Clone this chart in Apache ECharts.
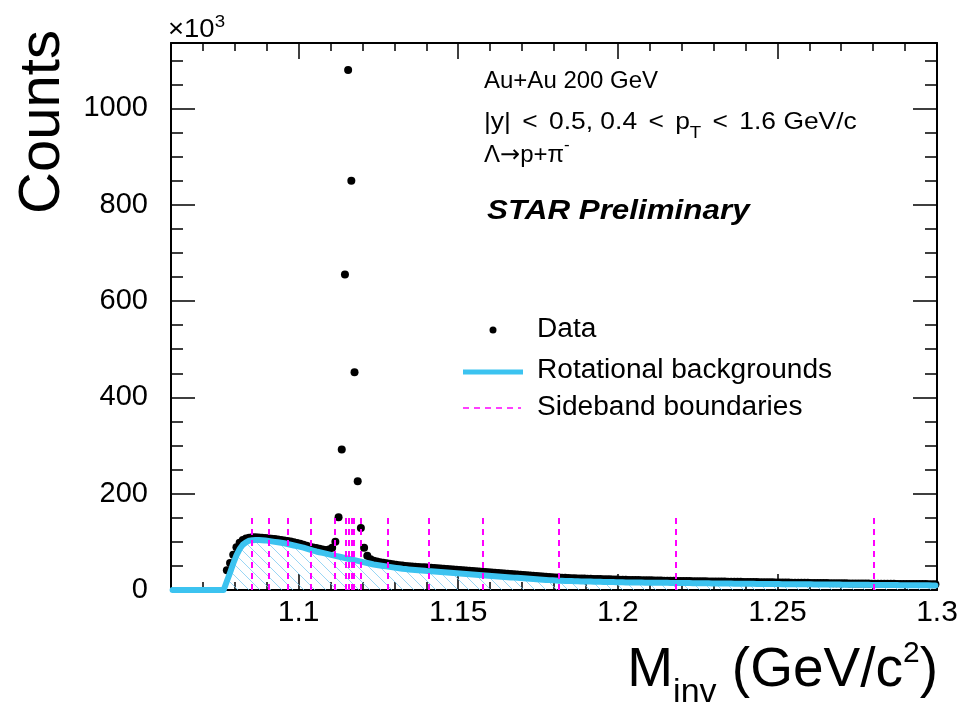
<!DOCTYPE html>
<html>
<head>
<meta charset="utf-8">
<title>Lambda invariant mass</title>
<script src="https://cdn.jsdelivr.net/npm/echarts@6/dist/echarts.min.js"></script>
<style>
  html, body { margin: 0; padding: 0; background: #ffffff; }
  #chart { width: 961px; height: 707px; }
</style>
</head>
<body>
<div id="chart"></div>
<script>
// Histogram binning (GeV/c^2)
const massMin = 1.06;
const massMax = 1.30;
const binWidth = 0.001;

// Counts per bin, in units of 10^3 (null = empty bin below threshold)
const dataCounts = [
  null, null, null, null, null, null, null, null, null, null,
  null, null, null, null, null, null, null, 41, 56, 73,
  89, 98, 104, 107, 108.5, 109.5, 109.5, 109, 108.5, 108,
  107.5, 106.5, 106, 105, 104, 103, 102, 100.5, 99, 97.5,
  96, 94, 92, 90, 88.5, 87, 85.5, 84, 83, 84,
  88, 100, 151, 292, 655, 1080, 850, 452, 226, 129,
  88, 71, 64, 61, 59, 57.5, 56.5, 55.5, 54.5, 53.5,
  52.5, 51.5, 51, 50, 49.5, 49, 48.5, 48, 47.5, 47,
  46.5, 46, 45.5, 45, 44.5, 44, 43.5, 43, 42.5, 42,
  41.5, 41, 40.5, 40, 39.5, 39, 38.5, 38, 37.5, 37,
  36.4, 35.8, 35.3, 34.7, 34.2, 33.6, 33.1, 32.6, 32.1, 31.6,
  31.1, 30.6, 30.1, 29.6, 29.1, 28.6, 28.1, 27.6, 27.1, 26.6,
  26.2, 25.8, 25.5, 25.2, 24.9, 24.6, 24.3, 24.1, 23.9, 23.7,
  23.5, 23.3, 23.1, 22.9, 22.7, 22.5, 22.3, 22.1, 21.9, 21.7,
  21.5, 21.3, 21.2, 21.0, 20.9, 20.7, 20.6, 20.4, 20.3, 20.1,
  20.0, 19.8, 19.7, 19.5, 19.4, 19.3, 19.1, 19.0, 18.9, 18.8,
  18.7, 18.6, 18.5, 18.4, 18.3, 18.2, 18.1, 18.0, 17.9, 17.8,
  17.7, 17.6, 17.5, 17.4, 17.3, 17.2, 17.1, 17.0, 16.9, 16.8,
  16.7, 16.6, 16.5, 16.4, 16.3, 16.2, 16.1, 16.0, 15.9, 15.8,
  15.7, 15.6, 15.5, 15.4, 15.3, 15.2, 15.1, 15.0, 14.9, 14.8,
  14.7, 14.6, 14.5, 14.4, 14.4, 14.3, 14.2, 14.1, 14.0, 13.9,
  13.9, 13.8, 13.7, 13.6, 13.6, 13.5, 13.4, 13.3, 13.3, 13.2,
  13.1, 13.1, 13.0, 12.9, 12.9, 12.8, 12.8, 12.7, 12.7, 12.6,
  12.6, 12.5, 12.5, 12.4, 12.4, 12.3, 12.3, 12.2, 12.2, 12.1
];

// Rotational background per bin, in units of 10^3
const rotBkgCounts = [
  0, 0, 0, 0, 0, 0, 0, 0, 0, 0,
  0, 0, 0, 0, 0, 0, 0, 18, 36, 55,
  72, 85, 94, 99, 102.5, 103.5, 104, 104, 103.5, 103,
  102, 101, 100, 99, 98, 97, 95.5, 94, 92.5, 91,
  89.5, 88, 86, 84, 82, 80, 78.5, 77, 75.5, 74,
  72.5, 71, 69.5, 68, 66.5, 65, 63.5, 62, 60.5, 59,
  57.5, 56, 54.5, 53, 52, 51, 50, 49, 48, 47,
  46, 45, 44, 43.4, 42.8, 42.2, 41.6, 41, 40.4, 39.8,
  39.2, 38.7, 38.2, 37.7, 37.2, 36.7, 36.2, 35.7, 35.2, 34.7,
  34.2, 33.7, 33.2, 32.7, 32.2, 31.7, 31.2, 30.7, 30.2, 29.7,
  29.2, 28.7, 28.2, 27.7, 27.2, 26.7, 26.2, 25.7, 25.2, 24.7,
  24.2, 23.7, 23.2, 22.7, 22.2, 21.8, 21.3, 20.9, 20.5, 20.1,
  19.7, 19.3, 19.1, 18.9, 18.7, 18.5, 18.3, 18.1, 17.9, 17.7,
  17.6, 17.4, 17.3, 17.1, 17.0, 16.8, 16.7, 16.5, 16.4, 16.2,
  16.0, 15.9, 15.8, 15.7, 15.6, 15.5, 15.5, 15.4, 15.3, 15.2,
  15.1, 15.0, 15.0, 14.9, 14.8, 14.8, 14.7, 14.6, 14.6, 14.5,
  14.4, 14.3, 14.3, 14.2, 14.1, 14.0, 14.0, 13.9, 13.8, 13.7,
  13.7, 13.6, 13.5, 13.4, 13.4, 13.3, 13.2, 13.1, 13.1, 13.0,
  12.9, 12.9, 12.8, 12.7, 12.7, 12.6, 12.5, 12.5, 12.4, 12.3,
  12.3, 12.2, 12.1, 12.1, 12.0, 12.0, 11.9, 11.8, 11.8, 11.7,
  11.7, 11.6, 11.6, 11.5, 11.5, 11.4, 11.3, 11.3, 11.2, 11.2,
  11.1, 11.1, 11.0, 10.9, 10.9, 10.8, 10.8, 10.7, 10.7, 10.6,
  10.6, 10.5, 10.4, 10.4, 10.3, 10.3, 10.2, 10.2, 10.1, 10.1,
  10.0, 10.0, 9.9, 9.9, 9.8, 9.8, 9.7, 9.7, 9.6, 9.6
];

// Sideband boundary positions (GeV/c^2) and the height they are drawn to (10^3)
const sidebandEdges = [1.0853, 1.0907, 1.0967, 1.1037, 1.1113, 1.1149, 1.1157, 1.1166,
                       1.1173, 1.1194, 1.1279, 1.1409, 1.1576, 1.1816, 1.2183, 1.2801];
const sidebandTop = 150;

// Axis ticks
const yMax = 1136;
const xMajorTicks = [1.1, 1.15, 1.2, 1.25, 1.3];
const xMinorTicks = [1.07, 1.08, 1.09, 1.1, 1.11, 1.12, 1.13, 1.14, 1.15, 1.16, 1.17, 1.18,
                     1.19, 1.2, 1.21, 1.22, 1.23, 1.24, 1.25, 1.26, 1.27, 1.28, 1.29, 1.3];
const yMajorTicks = [0, 200, 400, 600, 800, 1000];
const yMinorTicks = [0, 50, 100, 150, 200, 250, 300, 350, 400, 450, 500, 550,
                     600, 650, 700, 750, 800, 850, 900, 950, 1000, 1050, 1100];

const FONT = '"Liberation Sans", Arial, Helvetica, sans-serif';
const SYMBOL_FONT = '"DejaVu Sans", "Liberation Sans", sans-serif';
const BKG_BLUE = '#3cc3f0';
const MAGENTA = '#ff00ff';

function binCenter(i) { return massMin + binWidth * (i + 0.5); }

const dataPoints = [];
dataCounts.forEach((v, i) => { if (v !== null) dataPoints.push([binCenter(i), v]); });
const bkgPoints = rotBkgCounts.map((v, i) => [binCenter(i), v]);

// Diagonal hatch used under the background curve
function hatchPattern() {
  const s = 11;
  const c = document.createElement('canvas');
  c.width = s; c.height = s;
  const g = c.getContext('2d');
  g.strokeStyle = 'rgba(120, 200, 240, 0.75)';
  g.lineWidth = 1;
  g.beginPath();
  g.moveTo(-1, -1); g.lineTo(s + 1, s + 1);
  g.moveTo(-1, s - 1); g.lineTo(1, s + 1);
  g.moveTo(s - 1, -1); g.lineTo(s + 1, 1);
  g.stroke();
  return c;
}

// Text helpers: pieces laid out left to right, each on its own baseline,
// with optional side padding and horizontal stretch (sx)
const measureCtx = document.createElement('canvas').getContext('2d');
function fontStr(p) {
  return (p.italic ? 'italic ' : '') + (p.bold ? 'bold ' : '') + p.size + 'px ' + (p.family || FONT);
}
function textRun(x, parts, anchor, sx) {
  const k = sx || 1;
  const widths = parts.map(p => {
    measureCtx.font = fontStr(p);
    return measureCtx.measureText(p.t).width * k + (p.padL || 0) + (p.padR || 0);
  });
  const total = widths.reduce((a, b) => a + b, 0);
  let cx = anchor === 'right' ? x - total : x;
  const els = [];
  parts.forEach((p, i) => {
    els.push({
      type: 'text', x: cx + (p.padL || 0), y: p.base - 0.3465 * p.size, scaleX: k, silent: true,
      style: { text: p.t, font: fontStr(p), fill: '#000',
               align: 'left', textAlign: 'left', verticalAlign: 'middle', textVerticalAlign: 'middle' }
    });
    cx += widths[i];
  });
  return els;
}

const TXT = 24;
const LT = { t: '<', size: TXT, base: 131, padL: 4, padR: 4 };
const graphics = [].concat(
  // multiplier of the y axis
  textRun(168, [{ t: '\u00d710', size: 25, base: 39 }, { t: '3', size: 17, base: 28 }], 'left', 1.1),
  // physics annotations
  textRun(484, [{ t: 'Au+Au 200 GeV', size: TXT, base: 90 }]),
  textRun(484, [{ t: '|y| ', size: TXT, base: 131 }, LT,
                { t: ' 0.5, 0.4 ', size: TXT, base: 131 }, LT,
                { t: ' p', size: TXT, base: 131 },
                { t: 'T', size: 17, base: 139 },
                { t: ' ', size: TXT, base: 131 }, LT,
                { t: ' 1.6 GeV/c', size: TXT, base: 131 }], 'left', 1.1),
  textRun(484, [{ t: '\u039b', size: TXT, base: 164 },
                { t: '\u2192', size: TXT, base: 164, family: SYMBOL_FONT },
                { t: 'p+\u03c0', size: TXT, base: 164 },
                { t: '-', size: 17, base: 151 }]),
  textRun(487, [{ t: 'STAR Preliminary', size: 28, base: 221, bold: true, italic: true }], 'left', 1.12),
  // x axis title
  textRun(938, [{ t: 'M', size: 55, base: 690 },
                { t: 'inv', size: 34, base: 704 },
                { t: ' (GeV/c', size: 55, base: 690 },
                { t: '2', size: 30, base: 664 },
                { t: ')', size: 55, base: 690 }], 'right'),
  // legend
  textRun(537, [{ t: 'Data', size: 27, base: 339 }], 'left', 1.04),
  textRun(537, [{ t: 'Rotational backgrounds', size: 27, base: 380 }], 'left', 1.04),
  textRun(537, [{ t: 'Sideband boundaries', size: 27, base: 417 }], 'left', 1.04),
  [
    { type: 'circle', shape: { cx: 493, cy: 330, r: 3.5 }, style: { fill: '#000' }, silent: true },
    { type: 'line', shape: { x1: 463, y1: 372, x2: 523, y2: 372 },
      style: { stroke: BKG_BLUE, lineWidth: 5 }, silent: true },
    { type: 'line', shape: { x1: 463, y1: 408, x2: 521, y2: 408 },
      style: { stroke: MAGENTA, lineWidth: 1.5, lineDash: [6, 5] }, silent: true },
    // y axis title
    { type: 'text', x: 43, y: 122, rotation: Math.PI / 2, silent: true,
      style: { text: 'Counts', font: '58px ' + FONT, fill: '#000',
               align: 'center', textAlign: 'center', verticalAlign: 'middle', textVerticalAlign: 'middle' } }
  ]
);

const gridRect = { left: 171, right: 24, top: 43, bottom: 117, containLabel: false, outerBoundsMode: 'none' };
const axisLineStyle = { color: '#000', width: 2 };
const tickStyle = { color: '#000', width: 1.5 };

function xAxisDef(gridIndex, position, ticks, len, withLabels, withLine) {
  return {
    type: 'value', gridIndex, position, min: massMin, max: massMax,
    axisLine: { show: withLine, onZero: false, lineStyle: axisLineStyle },
    axisTick: { show: true, inside: true, length: len, customValues: ticks, lineStyle: tickStyle },
    axisLabel: withLabels
      ? { show: true, customValues: ticks, color: '#000', fontSize: 30, fontFamily: FONT, margin: 8,
          formatter: v => String(+v.toFixed(2)) }
      : { show: false },
    splitLine: { show: false }, minorTick: { show: false }
  };
}
function yAxisDef(gridIndex, position, ticks, len, withLabels, withLine) {
  return {
    type: 'value', gridIndex, position, min: 0, max: yMax,
    axisLine: { show: withLine, onZero: false, lineStyle: axisLineStyle },
    axisTick: { show: true, inside: true, length: len, customValues: ticks, lineStyle: tickStyle },
    axisLabel: withLabels
      ? { show: true, customValues: ticks, color: '#000', fontSize: 29, fontFamily: FONT, margin: 23,
          formatter: v => String(Math.round(v)) }
      : { show: false },
    splitLine: { show: false }, minorTick: { show: false }
  };
}

const chart = echarts.init(document.getElementById('chart'), null, { renderer: 'canvas' });
chart.setOption({
  animation: false,
  backgroundColor: '#ffffff',
  grid: [Object.assign({}, gridRect), Object.assign({}, gridRect)],
  xAxis: [
    xAxisDef(0, 'bottom', xMajorTicks, 16, true, true),
    xAxisDef(0, 'top', xMajorTicks, 16, false, true),
    xAxisDef(1, 'bottom', xMinorTicks, 8, false, false),
    xAxisDef(1, 'top', xMinorTicks, 8, false, false)
  ],
  yAxis: [
    yAxisDef(0, 'left', yMajorTicks, 24, true, true),
    yAxisDef(0, 'right', yMajorTicks, 24, false, true),
    yAxisDef(1, 'left', yMinorTicks, 12, false, false),
    yAxisDef(1, 'right', yMinorTicks, 12, false, false)
  ],
  series: [
    {
      name: 'Data', type: 'scatter', xAxisIndex: 0, yAxisIndex: 0,
      data: dataPoints, symbol: 'circle', symbolSize: 8,
      itemStyle: { color: '#000', opacity: 1 }, z: 2, silent: true
    },
    {
      name: 'Rotational backgrounds', type: 'line', xAxisIndex: 0, yAxisIndex: 0,
      data: bkgPoints, showSymbol: false, smooth: false,
      lineStyle: { color: BKG_BLUE, width: 6, cap: 'round', join: 'round' },
      areaStyle: { color: { image: hatchPattern(), repeat: 'repeat' }, origin: 'start', opacity: 1 },
      z: 3, silent: true
    },
    {
      name: 'Sideband boundaries', type: 'line', xAxisIndex: 0, yAxisIndex: 0,
      data: [], z: 4, silent: true,
      markLine: {
        silent: true, symbol: ['none', 'none'], animation: false,
        label: { show: false },
        lineStyle: { color: MAGENTA, type: [6, 5], width: 2 },
        emphasis: { disabled: true },
        data: sidebandEdges.map(m => [{ coord: [m, 0] }, { coord: [m, sidebandTop] }])
      }
    }
  ],
  graphic: { elements: graphics }
});
</script>
</body>
</html>
